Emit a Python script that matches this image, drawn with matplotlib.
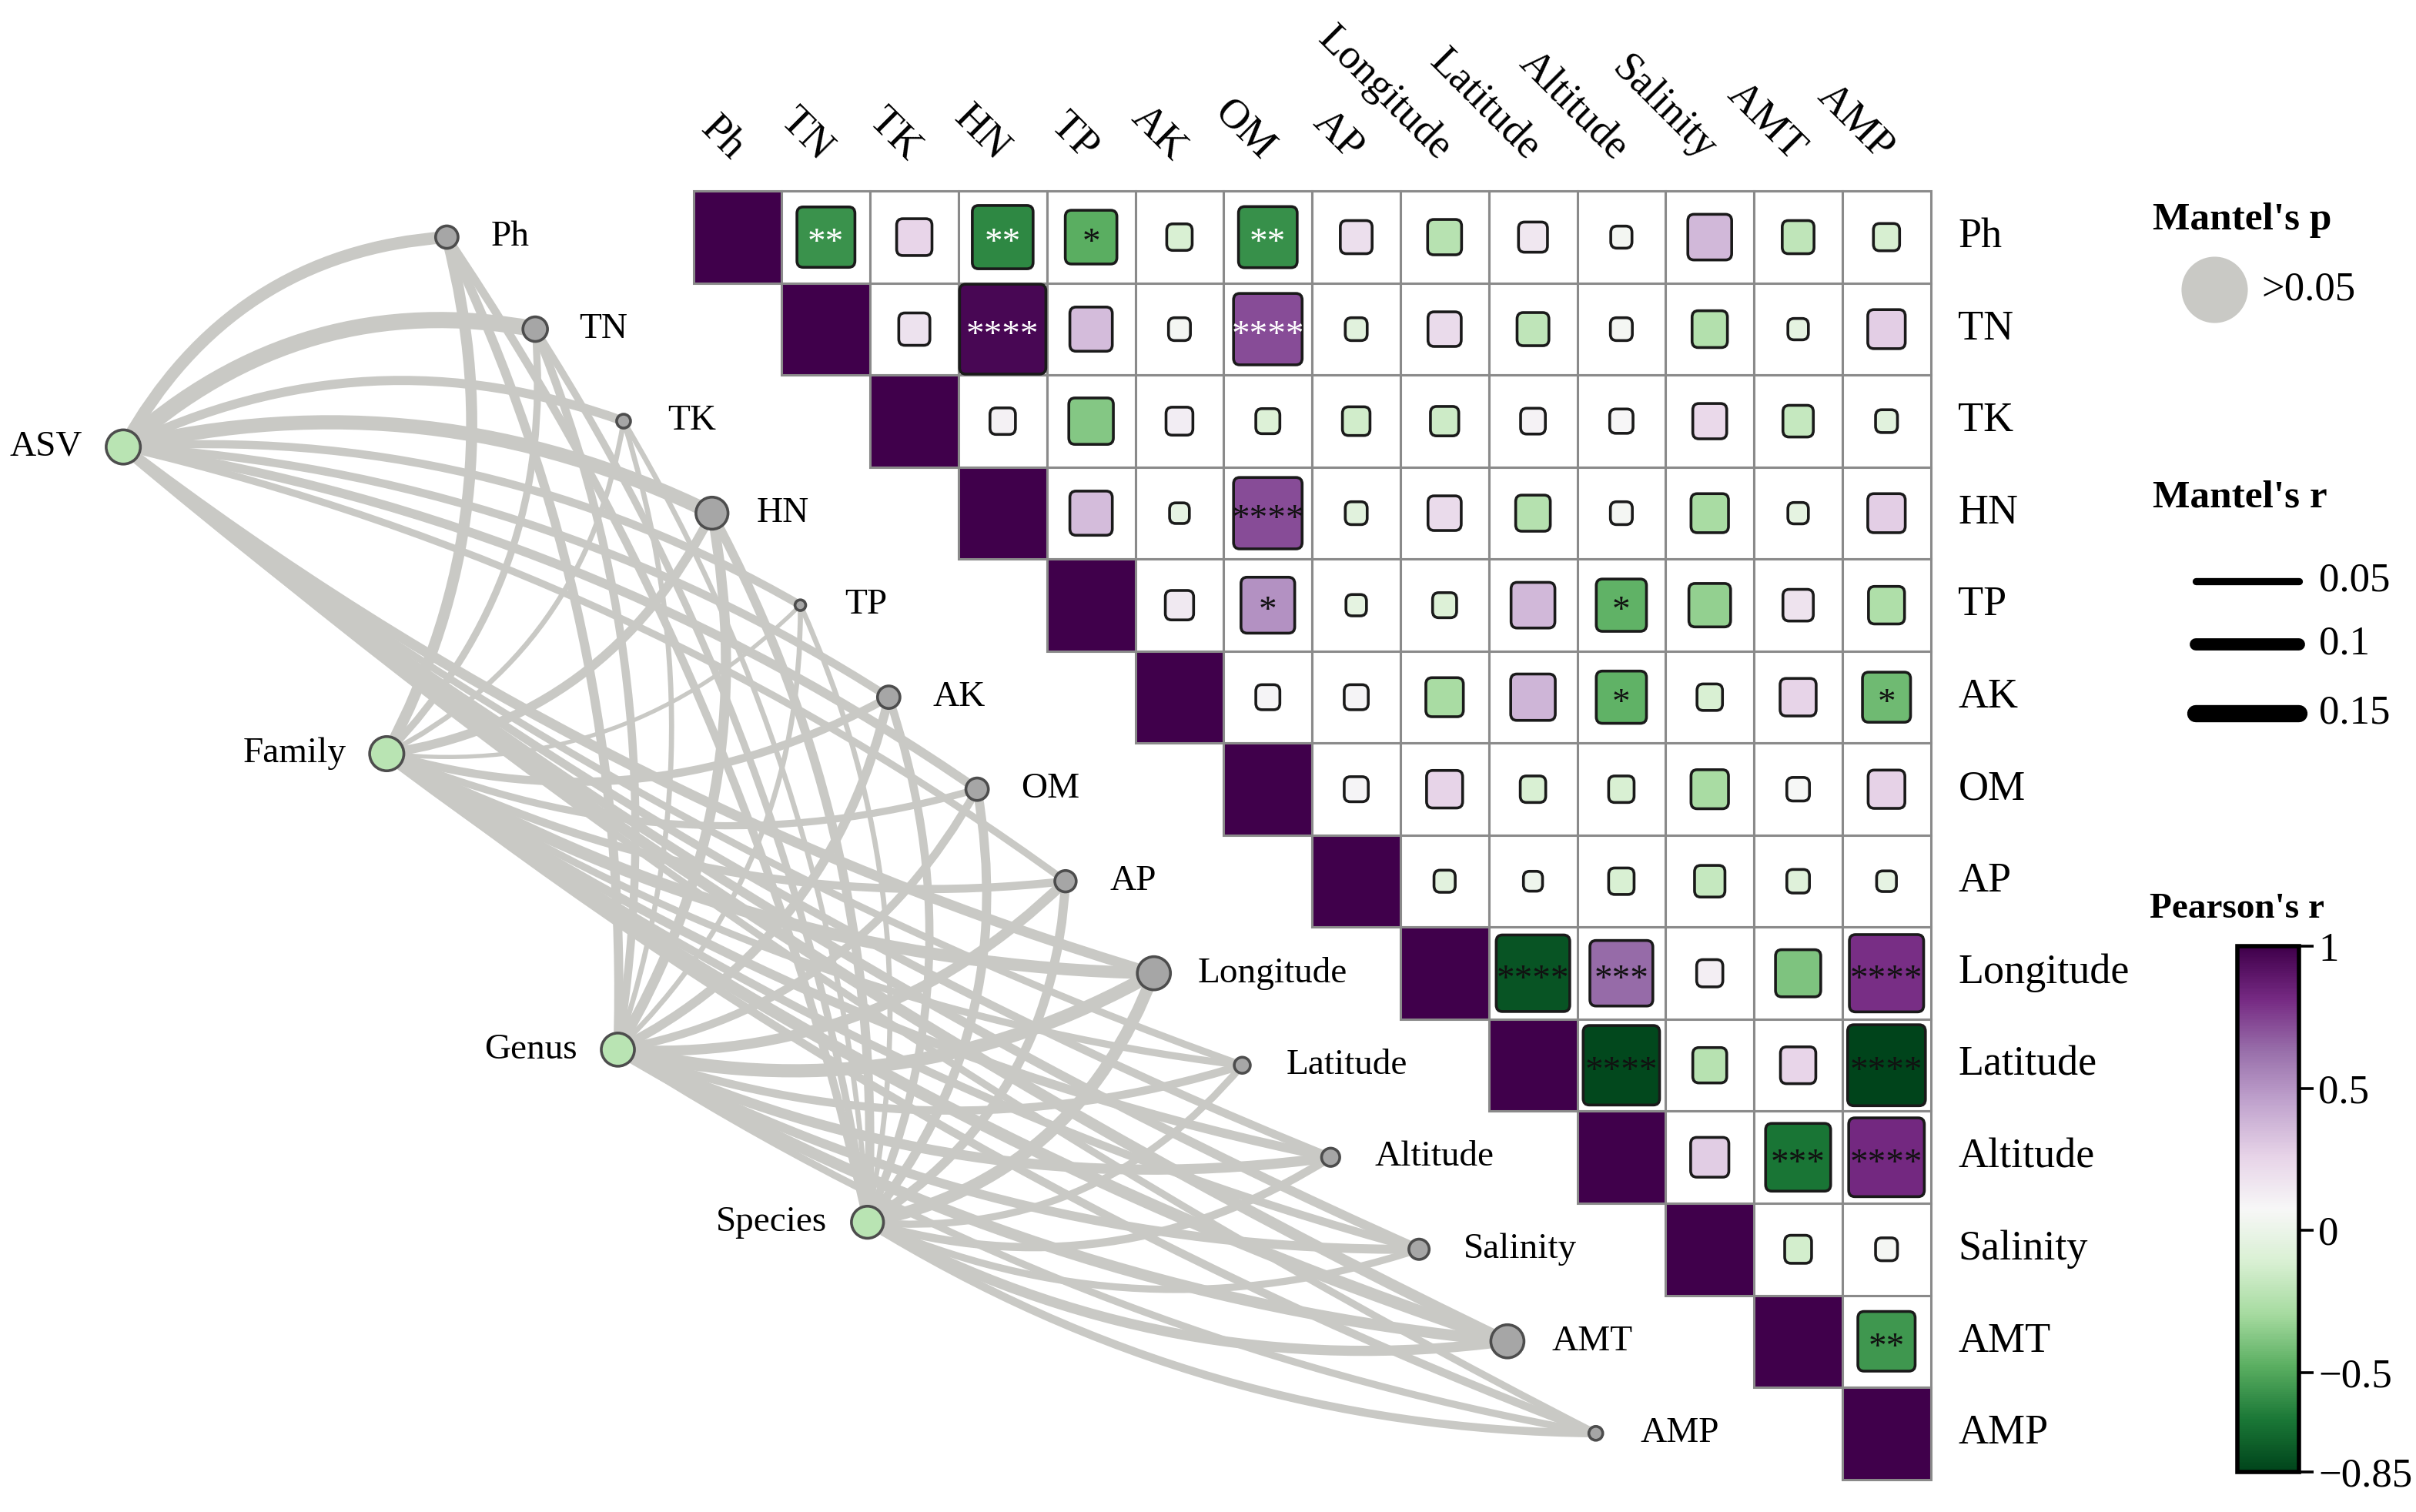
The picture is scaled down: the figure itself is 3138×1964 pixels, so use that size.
import numpy as np
import matplotlib
matplotlib.use("Agg")
import matplotlib.pyplot as plt
from matplotlib.patches import Rectangle, FancyBboxPatch, PathPatch
from matplotlib.path import Path
from matplotlib.colors import Normalize
from matplotlib.cm import ScalarMappable
from matplotlib.lines import Line2D

plt.rcParams['font.family'] = ['Liberation Serif', 'DejaVu Serif']

# ---- data ----
env = ['Ph', 'TN', 'TK', 'HN', 'TP', 'AK', 'OM', 'AP', 'Longitude',
       'Latitude', 'Altitude', 'Salinity', 'AMT', 'AMP']
spec = ['ASV', 'Family', 'Genus', 'Species']

# Pearson's r, upper triangle, row by row (columns i+1 .. 13)
pearson_rows = [
    [-0.57, 0.25, -0.61, -0.48, -0.11, -0.58, 0.20, -0.23, 0.16, 0.05, 0.37, -0.20, -0.12],
    [0.19, 0.97, 0.35, 0.06, 0.72, -0.06, 0.22, -0.20, 0.06, -0.25, -0.04, 0.28],
    [0.11, -0.38, 0.13, -0.09, -0.14, -0.15, 0.10, 0.08, 0.23, -0.18, -0.06],
    [0.35, -0.03, 0.72, -0.06, 0.22, -0.24, 0.06, -0.28, -0.04, 0.28],
    [0.15, 0.51, -0.04, -0.09, 0.37, -0.46, -0.34, 0.18, -0.26],
    [0.09, 0.09, -0.28, 0.38, -0.46, -0.11, 0.26, -0.43],
    [0.09, 0.26, -0.11, -0.11, -0.28, 0.07, 0.27],
    [-0.05, 0.02, -0.11, -0.18, -0.07, -0.03],
    [-0.79, 0.64, 0.12, -0.39, 0.80],
    [-0.83, -0.23, 0.25, -0.85],
    [0.29, -0.67, 0.82],
    [-0.13, 0.06],
    [-0.56],
]

stars = [('Ph', 'TN', '**'), ('Ph', 'HN', '**'), ('Ph', 'TP', '*'), ('Ph', 'OM', '**'),
         ('TN', 'HN', '****'), ('TN', 'OM', '****'), ('HN', 'OM', '****'),
         ('TP', 'OM', '*'), ('TP', 'Altitude', '*'), ('AK', 'Altitude', '*'),
         ('AK', 'AMP', '*'), ('Longitude', 'Latitude', '****'),
         ('Longitude', 'Altitude', '***'), ('Longitude', 'AMP', '****'),
         ('Latitude', 'Altitude', '****'), ('Latitude', 'AMP', '****'),
         ('Altitude', 'AMT', '***'), ('Altitude', 'AMP', '****'), ('AMT', 'AMP', '**')]
white_stars = [('Ph', 'TN'), ('Ph', 'HN'), ('Ph', 'OM'), ('TN', 'HN'), ('TN', 'OM')]

# Mantel's r, one row per taxon level, columns follow env
mantel_r = [
    [0.10, 0.14, 0.07, 0.12, 0.06, 0.06, 0.07, 0.05, 0.08, 0.05, 0.06, 0.07, 0.09, 0.05],
    [0.09, 0.05, 0.03, 0.07, 0.02, 0.06, 0.05, 0.06, 0.10, 0.05, 0.07, 0.06, 0.10, 0.06],
    [0.07, 0.06, 0.03, 0.08, 0.03, 0.07, 0.06, 0.08, 0.11, 0.06, 0.08, 0.07, 0.09, 0.05],
    [0.06, 0.05, 0.03, 0.07, 0.03, 0.06, 0.07, 0.07, 0.10, 0.05, 0.06, 0.05, 0.08, 0.06],
]
env_node_size = [10.5, 11.5, 6.5, 15, 5, 10.5, 10.5, 10, 15.5, 7.5, 8.5, 9.5, 15.5, 6.5]
spec_node_size = [16, 16, 15.5, 15]

legend_r = [0.05, 0.1, 0.15]
cbar_ticks = [1, 0.5, 0, -0.5, -0.85]
cbar_labels = ['1', '0.5', '0', '\u22120.5', '\u22120.85']

# ---- layout ----
W, H = 1568, 981
x0, y0, cw, ch = 450, 124, 57.36, 59.7
node_dx = (290 - x0) / cw
spec_xy = [((80 - x0) / cw, (290 - y0) / ch), ((251 - x0) / cw, (489 - y0) / ch),
           ((401 - x0) / cw, (681 - y0) / ch), ((563 - x0) / cw, (793 - y0) / ch)]

cmap = plt.get_cmap('PRGn_r')
norm = Normalize(vmin=-0.85, vmax=1)
n = len(env)

fig = plt.figure(figsize=(15.69, 9.82), dpi=200)
ax = fig.add_axes([0, 0, 1, 1])
ax.set_xlim(-x0 / cw, (W - x0) / cw)
ax.set_ylim((H - y0) / ch, -y0 / ch)
ax.axis('off')


def lw_of(r):
    return 1.0 + 47 * r


# network edges: quadratic curves with a fixed sideways bow
edge_col = '#c9c9c5'
bow = 1.15
for si in range(len(spec)):
    sx, sy = spec_xy[si]
    for ei in range(n):
        ex, ey = ei + node_dx, ei + 0.5
        dx, dy = sx - ex, sy - ey
        L = np.hypot(dx, dy)
        sign = -1 if (si == 0 and ei <= 7) else 1
        cx = (ex + sx) / 2 + sign * bow * dy / L
        cy = (ey + sy) / 2 - sign * bow * dx / L
        p = Path([(ex, ey), (cx, cy), (sx, sy)], [Path.MOVETO, Path.CURVE3, Path.CURVE3])
        ax.add_patch(PathPatch(p, fc='none', ec=edge_col, lw=lw_of(mantel_r[si][ei]),
                               capstyle='round', zorder=1))

# nodes
ex_all = np.arange(n) + node_dx
ey_all = np.arange(n) + 0.5
ax.scatter(ex_all, ey_all, s=np.array(env_node_size) ** 2, c='#a6a6a6',
           edgecolors='#4d4d4d', linewidths=1.3, zorder=3)
for i, name in enumerate(env):
    ax.text(ex_all[i] + 0.5, ey_all[i], name, fontsize=17, ha='left', va='center', zorder=4)
sxy = np.array(spec_xy)
ax.scatter(sxy[:, 0], sxy[:, 1], s=np.array(spec_node_size) ** 2, c='#b9e4b3',
           edgecolors='#4d4d4d', linewidths=1.3, zorder=3)
for i, name in enumerate(spec):
    ax.text(sxy[i, 0] - 0.46, sxy[i, 1], name, fontsize=17, ha='right', va='center', zorder=4)

# heatmap
star_map = {(a, b): s for a, b, s in stars}
for i in range(n):
    for j in range(i, n):
        if i == j:
            ax.add_patch(Rectangle((j, i), 1, 1, fc=cmap(norm(1)), ec='#8a8a8a', lw=1.1, zorder=2))
            continue
        r = pearson_rows[i][j - i - 1]
        ax.add_patch(Rectangle((j, i), 1, 1, fc='white', ec='#8a8a8a', lw=1.1, zorder=2))
        side = 0.2 + 0.8 * abs(r)
        ax.add_patch(FancyBboxPatch((j + 0.5 - side / 2, i + 0.5 - side / 2), side, side,
                                    boxstyle='round,pad=0,rounding_size=0.07',
                                    fc=cmap(norm(r)), ec='#1a1a1a', lw=1.3, zorder=3))
        lab = star_map.get((env[i], env[j]))
        if lab:
            col = 'white' if (env[i], env[j]) in white_stars else '#111111'
            ax.text(j + 0.5, i + 0.5 + 0.17, lab, fontsize=17, color=col,
                    ha='center', va='baseline', zorder=4)

for i, name in enumerate(env):
    ax.text(n + 0.31, i + 0.5, name, fontsize=19.5, ha='left', va='center')
    ax.text(i + 0.5, -0.4, name, fontsize=19.5, ha='right', va='center',
            rotation=-45, rotation_mode='anchor')

# legends
tf = fig.transFigure


def fx(px):
    return px / W


def fy(py):
    return 1 - py / H


fig.text(fx(1397), fy(143), "Mantel's p", fontsize=18.5, fontweight='bold', ha='left', va='center')
ax.scatter([fx(1437)], [fy(188)], s=30 ** 2, c='#c9c9c5', transform=tf, zorder=5, clip_on=False)
fig.text(fx(1468), fy(188), '>0.05', fontsize=19, ha='left', va='center')

fig.text(fx(1397), fy(323), "Mantel's r", fontsize=18.5, fontweight='bold', ha='left', va='center')
for k, r in enumerate(legend_r):
    yy = fy([377, 418, 463][k])
    fig.add_artist(Line2D([fx(1425), fx(1492)], [yy, yy], transform=tf, color='black',
                          lw=lw_of(r), solid_capstyle='round'))
    fig.text(fx(1505), yy, str(r), fontsize=19, ha='left', va='center')

fig.text(fx(1452), fy(590), "Pearson's r", fontsize=17, fontweight='bold', ha='center', va='center')
cax = fig.add_axes([fx(1452), fy(955), 40 / W, 341 / H])
cb = fig.colorbar(ScalarMappable(norm=norm, cmap=cmap), cax=cax, ticks=cbar_ticks)
cb.set_ticklabels(cbar_labels)
cb.ax.tick_params(labelsize=19, length=7, width=1.3, pad=2)
cb.outline.set_linewidth(2)

fig.savefig('out.png', dpi=200)
